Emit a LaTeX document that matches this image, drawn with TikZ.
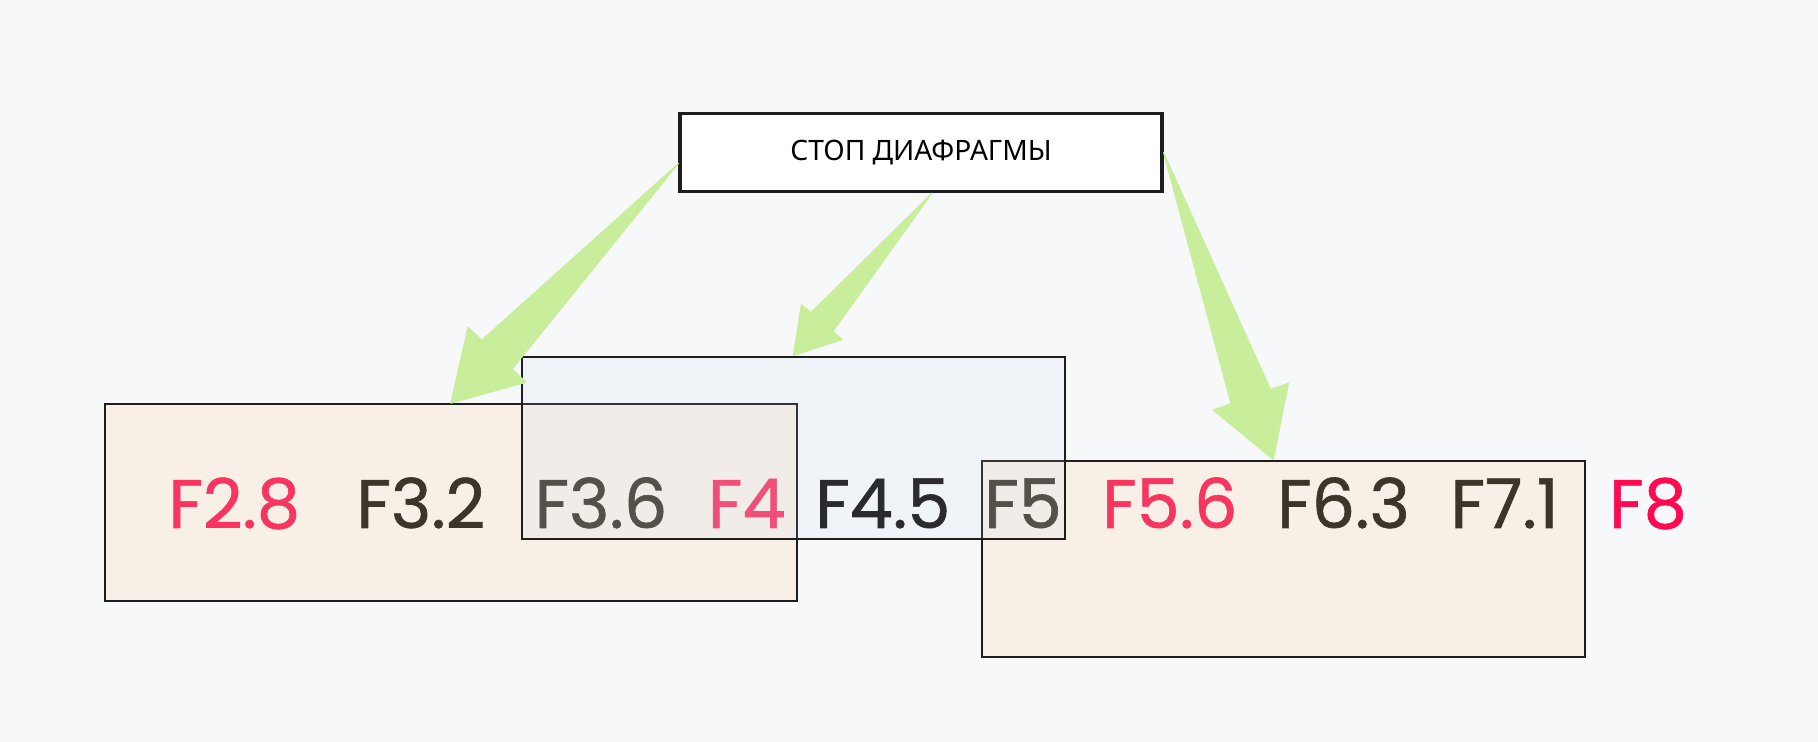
\documentclass[tikz,border=0pt]{standalone}
\usepackage{fontspec}
\setmainfont{Noto Sans}
\newfontfamily\numfont{Poppins}[RawFeature={embolden=0.9}]
\usepackage{xcolor}
\usepackage{tikz}
\usetikzlibrary{calc, positioning}

\definecolor{bgc}{HTML}{F7F8FA}
\definecolor{boxline}{HTML}{1E1E1E}
\definecolor{beige}{HTML}{F8F0E6}
\definecolor{bluish}{HTML}{C5D6F0}
\definecolor{arrgreen}{HTML}{C8EE9C}
\definecolor{fred}{HTML}{F7355F}
\definecolor{fpink}{HTML}{EF4F78}
\definecolor{fhot}{HTML}{FF0A50}
\definecolor{fbrown}{HTML}{3D3529}
\definecolor{fgray}{HTML}{55504A}
\definecolor{fdark}{HTML}{2A2A30}

\begin{document}
\begin{tikzpicture}[
  every node/.style={font=\fontsize{8}{10}\selectfont},
  box/.style={draw=boxline, line width=0.6pt, inner sep=0pt},
  ttlbox/.style={box, fill=white, line width=0.9pt,
                 minimum width=4.82cm, minimum height=0.78cm},
  fbox/.style={box, fill=beige},
  fnum/.style={anchor=base, inner sep=0pt,
               font=\numfont\fontsize{19.5}{22}\selectfont},
  wedge/.style={fill=arrgreen, draw=arrgreen, line width=0.3pt, line join=round}
]
%% canvas
\fill[bgc] (0,0) rectangle (18.18,7.42);
\useasboundingbox (0,0) rectangle (18.18,7.42);

%% title and ranges
\node[ttlbox] (ttl) at (9.21,5.895) {СТОП ДИАФРАГМЫ};
\node[fbox, minimum width=6.915cm, minimum height=1.964cm] (lbox) at (4.508,2.395) {};
\node[fbox, minimum width=6.026cm, minimum height=1.966cm] (rbox) at (12.833,1.83) {};
\node[box, fill=bluish, fill opacity=0.12,
      minimum width=5.43cm, minimum height=1.823cm] (mbox) at (7.933,2.942) {};

%% f-numbers
\foreach \x/\t/\c [count=\i] in {2.343/F2.8/fred, 4.208/F3.2/fbrown,
    6.01/F3.6/fgray, 7.467/F4/fpink, 8.828/F4.5/fdark, 10.23/F5/fgray,
    11.698/F5.6/fred, 13.435/F6.3/fbrown, 15.046/F7.1/fbrown, 16.48/F8/fhot}
  \node[fnum, text=\c] (f\i) at (\x,2.14) {\t};

%% arrows
\coordinate (a1s) at ([yshift=-0.11cm]ttl.west);
\coordinate (a1e) at (lbox.north);
\coordinate (a2s) at ([xshift=0.11cm]ttl.south);
\coordinate (a2e) at (mbox.north);
\coordinate (a3s) at (ttl.east);
\coordinate (a3e) at ([xshift=-0.1cm]rbox.north);
\foreach \s/\e/\hl/\hw/\sw in {a1s/a1e/0.67cm/0.40cm/0.21cm,
    a2s/a2e/0.44cm/0.27cm/0.145cm, a3s/a3e/0.67cm/0.40cm/0.21cm} {
  \coordinate (hb) at ($(\e)!\hl!(\s)$);
  \path[wedge] (\s) -- ($(hb)!\sw!90:(\e)$) -- ($(hb)!\hw!90:(\e)$) -- (\e)
    -- ($(hb)!\hw!-90:(\e)$) -- ($(hb)!\sw!-90:(\e)$) -- cycle;
}
\end{tikzpicture}
\end{document}
